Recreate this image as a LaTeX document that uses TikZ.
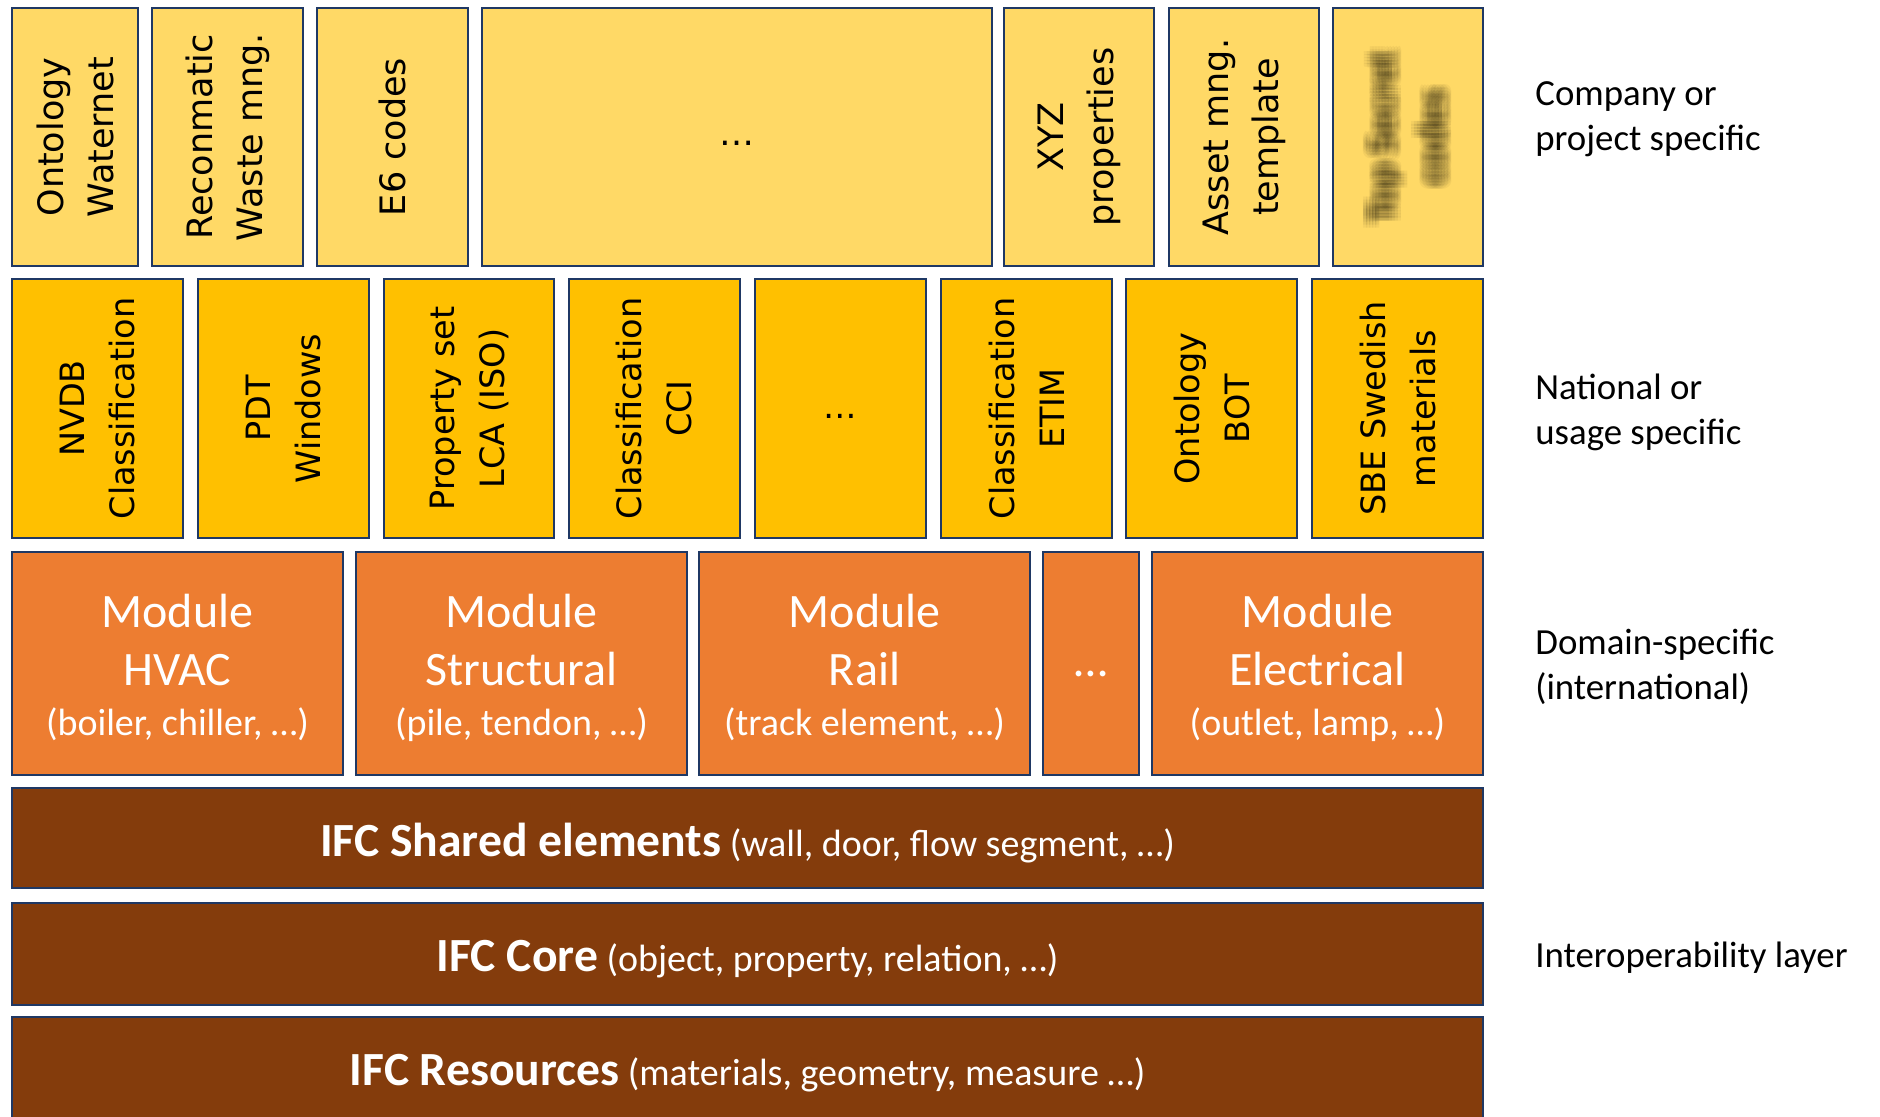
\documentclass[tikz,border=0pt]{standalone}
\usepackage{fontspec}
\usetikzlibrary{calc}
\newfontfamily\dv{DejaVu Sans}
\newfontfamily\cb{Carlito}
\definecolor{goldA}{HTML}{FFD966}
\definecolor{goldB}{HTML}{FFC000}
\definecolor{orng}{HTML}{ED7D31}
\definecolor{brwn}{HTML}{843C0C}
\definecolor{navy}{HTML}{1F3864}
\tikzset{
  box/.style={draw=navy, line width=1.1pt, inner sep=0pt, align=center},
  rowA/.style={box, fill=goldA, font=\dv\fontsize{17.5}{25}\selectfont},
  rowB/.style={box, fill=goldB, font=\dv\fontsize{16.75}{25}\selectfont},
  rowC/.style={box, fill=orng, text=white, font=\cb\fontsize{24}{29}\selectfont},
  rowD/.style={box, fill=brwn, text=white, font=\cb\fontsize{19}{23}\selectfont},
  lab/.style={anchor=west, inner sep=0pt, align=left, font=\cb\fontsize{18.4}{22.5}\selectfont},
  blurtxt/.style={rotate=90, inner sep=0pt, align=center, text=black, text opacity=0.042,
    font=\cb\bfseries\fontsize{20}{25}\selectfont},
}
\newcommand\VBox[7]{\node[#6, rotate=90, minimum width={(#5-#3)*0.5pt}, minimum height={(#4-#2)*0.5pt}] (#1) at ({(#2+#4)/2},{(#3+#5)/2}) {#7};}
\newcommand\HBox[7]{\node[#6, minimum width={(#4-#2)*0.5pt}, minimum height={(#5-#3)*0.5pt}] (#1) at ({(#2+#4)/2},{(#3+#5)/2}) {#7};}
\newcommand\subl[1]{{\fontsize{19}{23}\selectfont #1}}
\newcommand\ttl[1]{{\bfseries\fontsize{23.8}{28}\selectfont #1}}
\newcommand\mydots[1]{\raisebox{-#1}[0pt][0pt]{…}}
\newcommand\low[1]{\raisebox{-2.4pt}[\height][\depth]{#1}}
\newcommand\topfix{\rule{0pt}{21pt}}
\begin{document}
\begin{tikzpicture}[x=0.5pt, y=-0.5pt]
\useasboundingbox[fill=white] (0,0) rectangle (1880,1117);
% Row 1: company or project specific
\VBox{a1}{12}{8}{138}{266}{rowA}{Ontology\\Waternet}
\VBox{a2}{152}{8}{303}{266}{rowA}{Reconmatic\\Waste mng.}
\VBox{a3}{317}{8}{468}{266}{rowA}{E6 codes}
\HBox{a4}{482}{8}{992}{266}{rowA}{\mydots{4.3pt}}
\VBox{a5}{1004}{8}{1154}{266}{rowA}{XYZ\\properties}
\VBox{a6}{1169}{8}{1319}{266}{rowA}{Asset mng.\\template}
\VBox{a7}{1333}{8}{1483}{266}{rowA}{}
\foreach \dx in {-6,-3,0,3,6}{
  \foreach \dy in {-6,-3,0,3,6}{
    \node[blurtxt] at ($(a7.center)+(\dx,\dy)$) {Top Secret\\codes};
  }
}
% Row 2: national or usage specific
\VBox{b1}{12}{279}{183}{538}{rowB}{NVDB\\Classification}
\VBox{b2}{198}{279}{369}{538}{rowB}{PDT\\Windows}
\VBox{b3}{384}{279}{554}{538}{rowB}{Property set\\LCA (ISO)}
\VBox{b4}{569}{279}{740}{538}{rowB}{Classification\\CCI}
\HBox{b5}{755}{279}{926}{538}{rowB}{\mydots{5.2pt}}
\VBox{b6}{941}{279}{1112}{538}{rowB}{Classification\\ETIM}
\VBox{b7}{1126}{279}{1297}{538}{rowB}{Ontology\\BOT}
\VBox{b8}{1312}{279}{1483}{538}{rowB}{SBE Swedish\\materials}
% Row 3: domain specific
\HBox{c1}{12}{552}{343}{775}{rowC}{\topfix Module\\HVAC\\[-4pt]\subl{(boiler, chiller, …)}}
\HBox{c2}{356}{552}{687}{775}{rowC}{\topfix Module\\Structural\\[-4pt]\subl{(pile, tendon, …)}}
\HBox{c3}{699}{552}{1030}{775}{rowC}{\topfix Module\\Rail\\[-4pt]\subl{(track element, …)}}
\HBox{c4}{1043}{552}{1139}{775}{rowC}{\mydots{6.4pt}}
\HBox{c5}{1152}{552}{1483}{775}{rowC}{\topfix Module\\Electrical\\[-4pt]\subl{(outlet, lamp, …)}}
% Rows 4-6: interoperability layer
\HBox{d1}{12}{788}{1483}{888}{rowD}{\low{\ttl{IFC Shared elements} (wall, door, flow segment, …)}}
\HBox{d2}{12}{903}{1483}{1005}{rowD}{\low{\ttl{IFC Core} (object, property, relation, …)}}
\HBox{d3}{12}{1017}{1483}{1120}{rowD}{\low{\ttl{IFC Resources} (materials, geometry, measure …)}}
% Labels
\node[lab] (l1) at (1535,119.5) {Company or\\project specific};
\node[lab] (l2) at (1535,412.5) {National or\\usage specific};
\node[lab] (l3) at (1535,666.5) {Domain-specific\\(international)};
\node[lab] (l4) at (1535,958) {Interoperability layer};
\end{tikzpicture}
\end{document}
